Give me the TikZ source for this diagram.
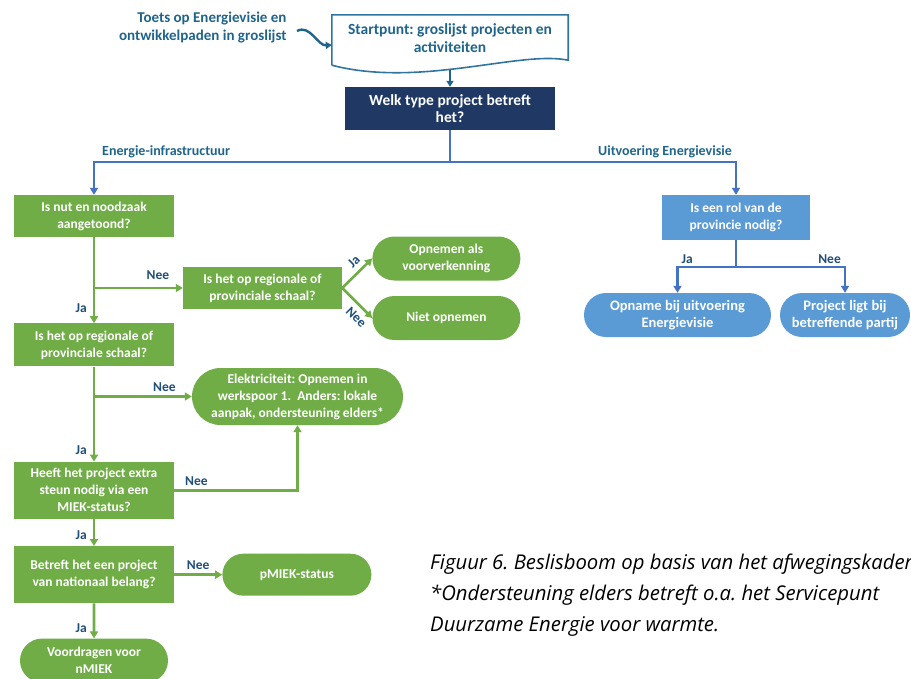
\documentclass[tikz,border=0pt]{standalone}
\usepackage{fontspec}
\setmainfont{Carlito}
\newfontfamily\capfont{Open Sans}
\usetikzlibrary{arrows.meta,positioning,shapes.misc}
\definecolor{grn}{RGB}{112,173,71}
\definecolor{lblu}{RGB}{91,155,213}
\definecolor{navy}{RGB}{31,56,100}
\definecolor{lnblu}{RGB}{68,114,196}
\definecolor{docteal}{RGB}{31,100,140}
\definecolor{docline}{RGB}{47,117,160}
\definecolor{tagblu}{RGB}{31,78,121}
\frenchspacing

\begin{document}
\begin{tikzpicture}[
  x=1pt,y=-1pt,
  font=\fontsize{13.5}{17}\selectfont\bfseries,
  q/.style={fill=grn,text=white,align=center,minimum width=160pt,minimum height=42pt,inner sep=2pt},
  term/.style={rounded rectangle,fill=grn,text=white,align=center,minimum width=152pt,minimum height=44pt,inner sep=2pt},
  bq/.style={fill=lblu,text=white,align=center,minimum width=148pt,minimum height=45pt,inner sep=2pt},
  bterm/.style={rounded rectangle,fill=lblu,text=white,align=center,minimum height=44pt,inner sep=2pt,font=\fontsize{14.5}{17}\selectfont\bfseries},
  tag/.style={text=tagblu,inner sep=1pt,font=\fontsize{13.5}{15}\selectfont\bfseries},
  ar/.style={draw=grn,line width=2.6pt,-{Triangle[length=7pt,width=8pt]}},
  arb/.style={draw=lnblu,line width=2.2pt,-{Triangle[length=7pt,width=8pt]}}
]
\useasboundingbox (0,0) rectangle (911,678);

\node[align=right,text=docteal,anchor=east,font=\fontsize{15}{18}\selectfont\bfseries] (note) at (290,28) {Toets op Energievisie en\\ontwikkelpaden in groslijst};
\node[text=docteal,align=center,minimum width=236pt,minimum height=46pt,inner sep=2pt,font=\fontsize{15.5}{18}\selectfont\bfseries] (start) at (450,38) {Startpunt: groslijst projecten en\\activiteiten};
\draw[docline,line width=1.6pt] ([yshift=-4pt]start.south west) -- (start.north west) -- (start.north east) -- ([yshift=1pt]start.south east) .. controls +(-48,-10) and +(88,23) .. ([yshift=-4pt]start.south west);
\node[fill=navy,text=white,align=center,minimum width=210pt,minimum height=43pt,inner sep=2pt,font=\fontsize{15.5}{17}\selectfont\bfseries] (welk) at (450,108.5) {Welk type project betreft\\het?};

\node[q] (q1) at (94,216) {Is nut en noodzaak\\aangetoond?};
\node[q,minimum height=43pt,below=86pt of q1] (q2) {Is het op regionale of\\provinciale schaal?};
\node[q,minimum height=57pt,below=95pt of q2] (q3) {Heeft het project extra\\steun nodig via een\\MIEK-status?};
\node[q,minimum height=57pt,below=27pt of q3] (q4) {Betreft het een project\\van nationaal belang?};
\node[term,below=35pt of q4] (vd) {Voordragen voor\\nMIEK};

\node[q,minimum width=159pt] (qm) at (262.5,288) {Is het op regionale of\\provinciale schaal?};
\node[term,right=30pt of qm,yshift=29.5pt] (o1) {Opnemen als\\voorverkenning};
\node[term,right=30pt of qm,yshift=-30pt] (o2) {Niet opnemen};
\node[term,minimum width=215pt,minimum height=57pt] (ek) at (297.5,396.5) {Elektriciteit: Opnemen in\\werkspoor 1.~~Anders: lokale\\aanpak, ondersteuning elders*};
\node[term,minimum width=153pt,minimum height=42pt,right=48pt of q4] (pm) {pMIEK-status};

\node[bq] (bq) at (736,217.5) {Is een rol van de\\provincie nodig?};
\node[bterm,minimum width=191pt] (bj) at (677.5,315) {Opname bij uitvoering\\Energievisie};
\node[bterm,minimum width=134pt] (bn) at (845,315) {Project ligt bij\\betreffende partij};

\node[anchor=north west,align=left,inner sep=0pt,font=\capfont\itshape\fontsize{20.3}{31}\selectfont] (capt) at (430,554) {Figuur 6. Beslisboom op basis van het afwegingskader.\\*Ondersteuning elders betreft o.a. het Servicepunt\\Duurzame Energie voor warmte.};

\draw[docteal,line width=2.4pt,-{Triangle[length=6pt,width=7pt]}] ([xshift=7pt,yshift=-3pt]note.east) .. controls +(13,-7) and +(-14,1) .. ([yshift=-7pt]start.west);
\draw[docteal,line width=2.2pt,-{Triangle[length=6pt,width=7pt]}] ([yshift=-9pt]start.south) -- (welk);

\coordinate (fork) at (450,162);
\draw[arb] (welk) -- (fork) -| (q1.north);
\draw[arb] (fork) -| (bq.north);
\node[text=docteal,anchor=base west,inner sep=0pt,font=\fontsize{14}{17}\selectfont\bfseries] (einf) at (102,155) {Energie-infrastructuur};
\node[text=docteal,anchor=base east,inner sep=0pt,font=\fontsize{14}{17}\selectfont\bfseries] (uitv) at (732,155) {Uitvoering Energievisie};

\draw[ar] (q1) -- node[tag,left=5pt,pos=0.83] (ja1) {Ja} (q2);
\draw[ar] (q1.south |- qm.west) -- node[tag,above=6pt,pos=0.72] (nee1) {Nee} (qm.west);
\draw[ar] (qm.east) -- node[tag,sloped,above=4pt,pos=0.64] (ja2) {Ja} (o1.west);
\draw[ar] (qm.east) -- node[tag,sloped,below=4pt,pos=0.72] (nee2) {Nee} (o2.west);
\draw[ar] (q2) -- node[tag,left=5pt,pos=0.88] (ja3) {Ja} (q3);
\draw[ar] (q2.south |- ek.west) -- node[tag,above=3pt,pos=0.72] (nee3) {Nee} (ek.west);
\draw[ar] (q3.east) -| node[tag,above=2pt,pos=0.09] (nee4) {Nee} (ek.south);
\draw[ar] (q3) -- node[tag,left=5pt,pos=0.6] (ja4) {Ja} (q4);
\draw[ar] (q4) -- node[tag,above=3pt,pos=0.5] (nee5) {Nee} (pm);
\draw[ar] (q4) -- node[tag,left=5pt,pos=0.7] (ja5) {Ja} (vd);

\coordinate (rf) at (736,267);
\draw[arb] (bq) -- (rf) -| (bj.north);
\draw[arb] (rf) -| (bn.north);
\node[tag,anchor=south west,xshift=3pt,yshift=2pt] (ja6) at (bj.north |- rf) {Ja};
\node[tag,anchor=south east,xshift=-3pt,yshift=2pt] (nee6) at (bn.north |- rf) {Nee};
\end{tikzpicture}
\end{document}
